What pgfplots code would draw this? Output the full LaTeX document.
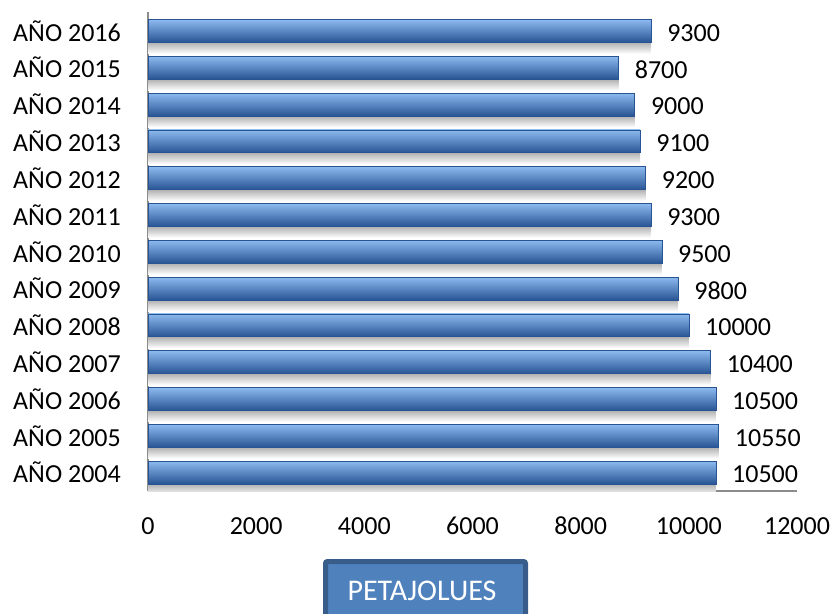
\documentclass[border=0pt]{standalone}
\usepackage{pgfplots}
\pgfplotsset{compat=1.18}
\usepackage{fontspec}
\setmainfont{Carlito}
\definecolor{barTop}{RGB}{140,185,238}
\definecolor{barMid}{RGB}{80,134,208}
\definecolor{barBot}{RGB}{40,84,148}
\definecolor{boxFill}{RGB}{79,129,189}
\definecolor{boxDraw}{RGB}{56,93,138}
\definecolor{axGray}{RGB}{140,140,140}
\newcommand\yearbar[2]{%
  \addplot[shadowbar] coordinates {(#1,#2)};
  \addplot[mainbar] coordinates {(#1,#2)};
}
\begin{document}
\begin{tikzpicture}[x=1bp,y=1bp]
\useasboundingbox (0,0) rectangle (833,-614);
\begin{axis}[
  at={(148bp,-491bp)}, anchor=south west,
  scale only axis, width=649bp, height=478.5bp,
  xbar,
  xmin=0, xmax=12000, ymin=-0.5, ymax=12.5,
  ytick={0,...,12},
  yticklabels={AÑO 2004,AÑO 2005,AÑO 2006,AÑO 2007,AÑO 2008,AÑO 2009,AÑO 2010,AÑO 2011,AÑO 2012,AÑO 2013,AÑO 2014,AÑO 2015,AÑO 2016},
  xtick={0,2000,...,12000},
  scaled ticks=false,
  /pgf/number format/1000 sep={},
  /pgf/number format/assume math mode=true,
  axis x line*=bottom, axis y line*=left,
  axis line style={-, draw=axGray, line width=1.3bp},
  major tick length=0pt,
  tick style={draw=none},
  xticklabel style={inner sep=0pt, yshift=-26bp, font=\fontsize{26bp}{31bp}\selectfont},
  yticklabel style={inner sep=0pt, xshift=-27bp, font=\fontsize{26bp}{31bp}\selectfont},
  shadowbar/.style={draw=none, top color=black!32, bottom color=white, bar width=0.32, bar shift=-0.46},
  mainbar/.style={draw=barBot, line width=0.6bp, top color=barTop, middle color=barMid, bottom color=barBot, bar width=0.62, bar shift=0,
    nodes near coords, nodes near coords align={horizontal},
    every node near coord/.append style={anchor=west, inner sep=0pt, xshift=16bp, yshift=-2bp, text=black, font=\fontsize{26bp}{31bp}\selectfont}},
]
\yearbar{10500}{0}
\yearbar{10550}{1}
\yearbar{10500}{2}
\yearbar{10400}{3}
\yearbar{10000}{4}
\yearbar{9800}{5}
\yearbar{9500}{6}
\yearbar{9300}{7}
\yearbar{9200}{8}
\yearbar{9100}{9}
\yearbar{9000}{10}
\yearbar{8700}{11}
\yearbar{9300}{12}
\end{axis}
\draw[draw=boxDraw, line width=5bp, fill=boxFill, rounded corners=2bp] (325.5,-561.5) rectangle (525.5,-660);
\node[anchor=base, text=white, inner sep=0pt, font=\fontsize{30bp}{36bp}\selectfont] at (422,-600) {PETAJOLUES};
\end{tikzpicture}
\end{document}
